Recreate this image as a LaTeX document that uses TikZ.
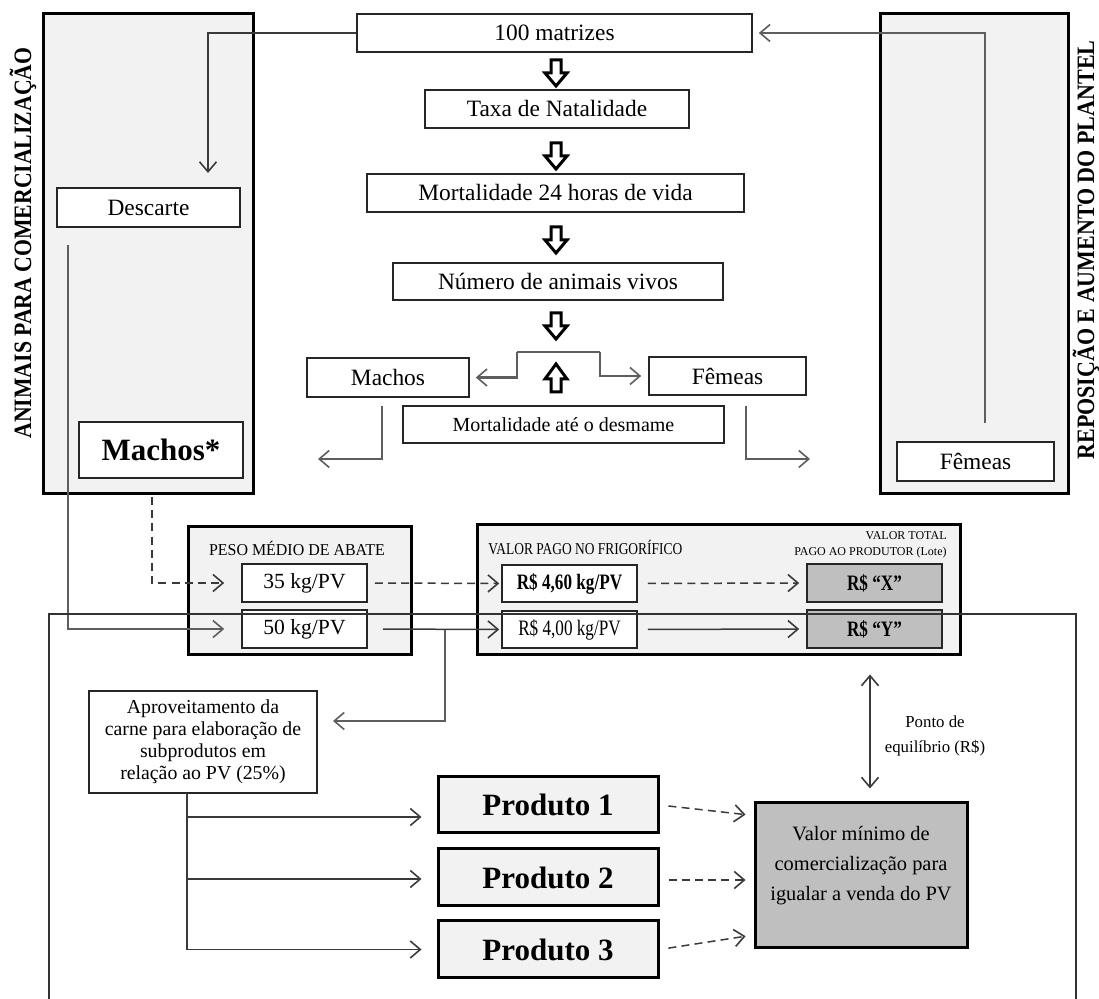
\documentclass[tikz,border=0pt]{standalone}
\usepackage{fontspec}
\setmainfont{Liberation Serif}
\usepackage{graphicx}
\usetikzlibrary{arrows.meta,calc}
\definecolor{lightfill}{HTML}{F2F2F2}
\definecolor{darkfill}{HTML}{BFBFBF}
\definecolor{lncol}{HTML}{3A3A3A}
\definecolor{gcol}{HTML}{5E5E5E}
\newcommand\bx[7]{\node[#1,minimum width={(#4-#2)*0.5pt},minimum height={(#5-#3)*0.5pt}] (#6) at ({(#2+#4)/2},{(#3+#5)/2}) {#7};}
\newcommand\fs[2]{\fontsize{#1}{#2}\selectfont}
\newcommand\hsc[2]{\scalebox{#1}[1]{#2}}
\tikzset{
  box/.style={draw=black!85, line width=0.8pt, fill=white, inner sep=0pt, align=center, font=\fs{11.7pt}{14pt}},
  tbox/.style={draw=black, line width=1.5pt, fill=lightfill, inner sep=0pt, align=center},
  tdbox/.style={tbox, fill=darkfill},
  dbox/.style={box, fill=darkfill},
  conn/.style={draw=lncol, line width=0.75pt},
  gconn/.style={draw=gcol, line width=1.1pt},
  arr/.style={-{Straight Barb[length=5pt,width=8.5pt,line width=0.8pt]}},
  dsh/.style={dash pattern=on 4pt off 2.6pt},
  vtitle/.style={rotate=90, inner sep=0pt, font=\bfseries\fs{12.5pt}{15pt}},
  blkdown/.pic={\draw[line width=1.5pt, fill=white, line join=miter] (-5,-13) -- (5,-13) -- (5,0) -- (11,0) -- (0,13) -- (-11,0) -- (-5,0) -- cycle;},
  blkup/.pic={\draw[line width=1.5pt, fill=white, line join=miter] (-5,14) -- (5,14) -- (5,1) -- (11,1) -- (0,-14) -- (-11,1) -- (-5,1) -- cycle;}
}
\begin{document}
\begin{tikzpicture}[x=0.5pt,y=-0.5pt]
\useasboundingbox (0,0) rectangle (1099,999);
% side panels
\bx{tbox}{43}{14}{253}{494}{lbig}{}
\bx{tbox}{880}{14}{1068}{494}{rbig}{}
\node[vtitle] (ltitle) at (23,243) {\hsc{0.87}{ANIMAIS PARA COMERCIALIZAÇÃO}};
\node[vtitle] (rtitle) at (1086,250) {\hsc{0.88}{REPOSIÇÃO E AUMENTO DO PLANTEL}};
\bx{box}{57}{188}{240}{227}{descarte}{Descarte}
\bx{box,font=\bfseries\fs{15.5pt}{18pt}}{79}{422}{243}{478}{machosb}{Machos*}
\bx{box}{897}{442}{1054}{481}{femeasr}{Fêmeas}
% central chain
\bx{box}{357}{14}{752}{52}{m100}{100 matrizes}
\bx{box}{425}{90}{689}{128}{taxa}{Taxa de Natalidade}
\bx{box}{367}{174}{744}{212}{mort24}{Mortalidade 24 horas de vida}
\bx{box}{393}{263}{723}{300}{numero}{Número de animais vivos}
\bx{box}{307}{358}{469}{397}{machos}{Machos}
\bx{box}{649}{357}{806}{395}{femeas}{Fêmeas}
\bx{box,font=\fs{10pt}{12pt}}{403}{406}{724}{443}{mortdes}{Mortalidade até o desmame}
\pic at (556,73) {blkdown};
\pic at (556,156) {blkdown};
\pic at (556,240) {blkdown};
\pic at (556,326) {blkdown};
\pic at (556,378) {blkup};
% weight and price panels
\bx{tbox}{188}{527}{411}{655}{peso}{}
\node[font=\fs{8.3pt}{9pt}] (pesolbl) at (297,548) {\hsc{0.96}{PESO MÉDIO DE ABATE}};
\bx{box,font=\fs{10.8pt}{13pt}}{242}{564}{367}{602}{k35}{35 kg/PV}
\bx{box,font=\fs{10.8pt}{13pt}}{242}{610}{367}{648}{k50}{50 kg/PV}
\bx{tbox}{477}{525}{960}{655}{valor}{}
\node[font=\fs{8.3pt}{9pt}, anchor=west, inner sep=0pt] (valorlbl) at (488,548) {\hsc{0.81}{VALOR PAGO NO FRIGORÍFICO}};
\node[font=\fs{6pt}{8pt}, anchor=east, align=right, inner sep=0pt] (totlbl) at (947,545) {VALOR TOTAL\\PAGO AO PRODUTOR (Lote)};
\bx{box,font=\bfseries\fs{11pt}{13pt}}{502}{565}{637}{602}{r460}{\hsc{0.78}{R\$ 4,60 kg/PV}}
\bx{box,font=\fs{11pt}{13pt}}{502}{611}{637}{648}{r400}{\hsc{0.78}{R\$ 4,00 kg/PV}}
\bx{dbox,font=\bfseries\fs{11pt}{13pt}}{807}{564}{942}{602}{rx}{\hsc{0.78}{R\$ “X”}}
\bx{dbox,font=\bfseries\fs{11pt}{13pt}}{807}{610}{942}{648}{ry}{\hsc{0.78}{R\$ “Y”}}
% by-products
\bx{box,font=\fs{9.9pt}{11pt}}{89}{691}{317}{793}{aprov}{Aproveitamento da\\carne para elaboração de\\subprodutos em\\relação ao PV (25\%)}
\bx{tbox,font=\bfseries\fs{15.5pt}{18pt}}{438}{777}{658}{833}{p1}{Produto 1}
\bx{tbox,font=\bfseries\fs{15.5pt}{18pt}}{438}{849}{658}{906}{p2}{Produto 2}
\bx{tbox,font=\bfseries\fs{15.5pt}{18pt}}{438}{921}{658}{978}{p3}{Produto 3}
\bx{tdbox}{755}{803}{967}{948}{vmin}{}
\node[font=\fs{10.2pt}{15pt}, align=center] (vmintxt) at (861,866) {Valor mínimo de\\comercialização para\\igualar a venda do PV};
\node[font=\fs{8.4pt}{12.5pt}, align=center] (ponto) at (935,736) {Ponto de\\equilíbrio (R\$)};
% coordinates for free ends
\coordinate (dtop) at (208,173);
\coordinate (fup) at (985,423);
\coordinate (dl) at (68,245);
\coordinate (ms) at (152,497);
\coordinate (br) at (445,630);
\coordinate (aprovin) at (333,721);
\coordinate (bl) at (517,352);
\coordinate (brr) at (600,352);
\coordinate (mcs) at (382,406);
\coordinate (mce) at (318,459);
\coordinate (fcs) at (746,406);
\coordinate (fce) at (810,459);
\coordinate (ab) at (187,793);
\coordinate (eqx) at (870,0);
% connectors
\draw[conn,arr] (m100.west) -| (dtop);
\draw[gconn,arr,shorten >=3pt] (fup) |- (m100.east);
\draw[gconn,arr,shorten >=8.5pt] (dl) |- (k50.west);
\draw[conn,dsh,arr,shorten >=8.5pt] (ms) |- (k35.west);
\draw[conn,dsh,arr,shorten <=3.5pt,shorten >=1pt] (k35.east) -- (r460.west);
\draw[conn,arr,shorten <=7.5pt,shorten >=1pt] (k50.east) -- (r400.west);
\draw[gconn,arr] (br) |- (aprovin);
\draw[conn,dsh,arr,shorten <=5pt,shorten >=3.5pt] (r460.east) -- (rx.west);
\draw[conn,arr,shorten <=5pt,shorten >=3.5pt] (r400.east) -- (ry.west);
\draw[conn,{Straight Barb[length=5pt,width=8.5pt,line width=0.8pt]}-{Straight Barb[length=5pt,width=8.5pt,line width=0.8pt]},shorten <=9pt,shorten >=6.5pt] (valor.south -| eqx) -- (vmin.north -| eqx);
\draw[gconn] (bl) -- (brr);
\draw[gconn,arr,shorten >=3pt] (bl) |- (machos.east);
\draw[gconn,arr,shorten >=3.5pt] (brr) |- (femeas.west);
\draw[gconn,arr] (mcs) |- (mce);
\draw[gconn,arr] (fcs) |- (fce);
\draw[conn,arr,shorten >=7.5pt] (ab) |- (p3.west);
\draw[conn,arr,shorten >=7.5pt] (ab |- 0,817) -- ([yshift=-6pt]p1.west);
\draw[conn,arr,shorten >=7.5pt] (ab |- 0,879) -- ([yshift=-0.75pt]p2.west);
\draw[conn,dsh,arr,shorten <=4.5pt,shorten >=4pt] (p1.east) -- ([yshift=30pt]vmin.west);
\draw[conn,dsh,arr,shorten <=4.5pt,shorten >=4pt] ([yshift=-1.25pt]p2.east) -- ([yshift=-2.25pt]vmin.west);
\draw[conn,dsh,arr,shorten <=4.5pt,shorten >=4pt] (p3.east) -- ([yshift=-29.75pt]vmin.west);
% outer frame
\draw[line width=0.8pt, draw=black!80] (49,999) -- (49,614) -- (1076,614) -- (1076,999);
\end{tikzpicture}
\end{document}
